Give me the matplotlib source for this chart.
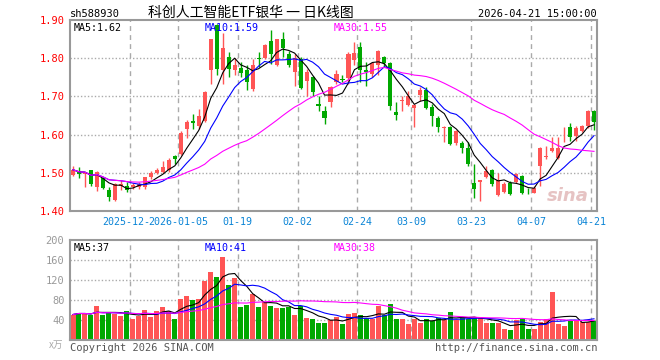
import matplotlib
matplotlib.use("Agg")
import matplotlib.pyplot as plt
import pandas as pd

# daily bars, 2025-12-08 .. 2026-04-21
opens = [1.495, 1.505, 1.497, 1.507, 1.464, 1.487, 1.455, 1.429, 1.465, 1.466,
         1.462, 1.464, 1.462, 1.488, 1.500, 1.503, 1.507, 1.543, 1.549, 1.614,
         1.635, 1.623, 1.636, 1.768, 1.888, 1.768, 1.803, 1.770, 1.774, 1.770,
         1.720, 1.800, 1.800, 1.844, 1.781, 1.849, 1.811, 1.765, 1.798, 1.741,
         1.750, 1.679, 1.663, 1.685, 1.737, 1.746, 1.748, 1.794, 1.829, 1.768,
         1.759, 1.781, 1.803, 1.788, 1.659, 1.688, 1.677, 1.669, 1.704, 1.717,
         1.671, 1.643, 1.618, 1.619, 1.578, 1.578, 1.566, 1.474, 1.477, 1.490,
         1.508, 1.442, 1.450, 1.472, 1.475, 1.492, 1.451, 1.448, 1.518, 1.541,
         1.558, 1.540, 1.603, 1.619, 1.596, 1.610, 1.622, 1.663]
highs = [1.518, 1.514, 1.502, 1.508, 1.505, 1.490, 1.464, 1.472, 1.481, 1.476,
         1.472, 1.475, 1.490, 1.504, 1.512, 1.530, 1.540, 1.546, 1.610, 1.637,
         1.655, 1.667, 1.715, 1.851, 1.890, 1.866, 1.816, 1.800, 1.789, 1.781,
         1.797, 1.816, 1.838, 1.875, 1.850, 1.868, 1.820, 1.811, 1.803, 1.772,
         1.754, 1.702, 1.674, 1.726, 1.768, 1.755, 1.816, 1.842, 1.842, 1.790,
         1.790, 1.822, 1.805, 1.791, 1.685, 1.702, 1.715, 1.680, 1.724, 1.724,
         1.680, 1.650, 1.622, 1.622, 1.612, 1.584, 1.580, 1.523, 1.481, 1.518,
         1.510, 1.499, 1.476, 1.479, 1.500, 1.494, 1.461, 1.466, 1.567, 1.571,
         1.593, 1.593, 1.619, 1.630, 1.622, 1.625, 1.665, 1.665]
lows = [1.492, 1.486, 1.462, 1.465, 1.452, 1.457, 1.427, 1.426, 1.455, 1.449,
        1.458, 1.458, 1.458, 1.484, 1.498, 1.499, 1.502, 1.522, 1.546, 1.590,
        1.614, 1.615, 1.634, 1.733, 1.756, 1.733, 1.750, 1.756, 1.750, 1.718,
        1.715, 1.776, 1.798, 1.785, 1.780, 1.803, 1.776, 1.728, 1.720, 1.702,
        1.702, 1.663, 1.628, 1.673, 1.733, 1.737, 1.733, 1.781, 1.737, 1.728,
        1.750, 1.755, 1.776, 1.665, 1.639, 1.663, 1.674, 1.621, 1.689, 1.667,
        1.623, 1.606, 1.580, 1.573, 1.573, 1.553, 1.518, 1.435, 1.426, 1.487,
        1.466, 1.440, 1.447, 1.441, 1.473, 1.444, 1.444, 1.446, 1.466, 1.536,
        1.555, 1.537, 1.580, 1.584, 1.584, 1.606, 1.618, 1.612]
closes = [1.508, 1.497, 1.500, 1.470, 1.501, 1.460, 1.437, 1.470, 1.470, 1.456,
          1.468, 1.470, 1.488, 1.500, 1.507, 1.516, 1.533, 1.535, 1.605, 1.634,
          1.631, 1.650, 1.712, 1.849, 1.771, 1.826, 1.772, 1.782, 1.762, 1.739,
          1.782, 1.798, 1.835, 1.811, 1.849, 1.826, 1.781, 1.800, 1.722, 1.765,
          1.711, 1.676, 1.643, 1.724, 1.759, 1.742, 1.811, 1.814, 1.768, 1.763,
          1.788, 1.820, 1.788, 1.676, 1.651, 1.690, 1.702, 1.677, 1.717, 1.669,
          1.650, 1.619, 1.620, 1.575, 1.610, 1.566, 1.523, 1.457, 1.480, 1.505,
          1.470, 1.482, 1.470, 1.444, 1.496, 1.448, 1.449, 1.461, 1.565, 1.543,
          1.566, 1.566, 1.605, 1.593, 1.617, 1.623, 1.663, 1.632]
volumes = [51, 55, 53, 50, 68, 50, 55, 53, 48, 58,
           42, 49, 61, 46, 58, 67, 58, 42, 82, 88,
           80, 82, 119, 137, 127, 166, 110, 125, 67, 70,
           92, 67, 77, 68, 65, 65, 67, 50, 68, 45,
           42, 35, 35, 41, 47, 32, 52, 54, 50, 45,
           43, 69, 51, 72, 42, 42, 32, 42, 35, 43,
           39, 45, 40, 56, 40, 45, 43, 45, 45, 34,
           34, 34, 22, 20, 40, 42, 22, 22, 36, 42,
           96, 32, 28, 39, 40, 36, 36, 39]

# the 2025-12-22 label is covered by 2026-01-05 on the chart, only "2025-12-" shows
tick_idx = [10, 18, 28, 38, 48, 57, 67, 77, 87]
tick_labels = ["2025-12-", "2026-01-05", "01-19", "02-02", "02-24",
               "03-09", "03-23", "04-07", "04-21"]
price_ticks = [1.40, 1.50, 1.60, 1.70, 1.80, 1.90]
vol_ticks = [40, 80, 120, 160, 200]

RED = "#ff5555"
GREEN = "#00a800"
GRID = "#aaaaaa"
MONO = "DejaVu Sans Mono"
CJK = ["Noto Sans CJK SC", "DejaVu Sans"]
FS = 7.2

df = pd.DataFrame({"o": opens, "h": highs, "l": lows, "c": closes, "v": volumes})
n = len(df)
x = list(range(n))
up = df["c"] >= df["o"]
colors = [RED if u else GREEN for u in up]

W, H = 660, 360
fig = plt.figure(figsize=(6.6, 3.6), dpi=100)
fig.patch.set_facecolor("white")

def box(l, t, r, b):
    return [l / W, 1 - b / H, (r - l) / W, (b - t) / H]

ax = fig.add_axes(box(70, 20, 597, 211))
axv = fig.add_axes(box(70, 240, 597, 340))

for a in (ax, axv):
    a.set_xlim(-0.5, n - 0.5)
    for s in a.spines.values():
        s.set_color("#999999")
        s.set_linewidth(1.5)
    a.tick_params(length=0)
    a.set_xticks([])
    for i in tick_idx:
        a.axvline(i - 0.5, color=GRID, lw=1, ls=(0, (3.5, 3)), zorder=0)

# price panel
ax.set_ylim(1.40, 1.90)
for p in price_ticks[1:-1]:
    ax.axhline(p, color=GRID, lw=1, ls=(0, (1, 1.5)), zorder=0)
ax.set_yticks(price_ticks)
ax.set_yticklabels(["%.2f" % p for p in price_ticks], color="red",
                   fontsize=FS + 0.3, family=MONO)
ax.tick_params(axis="y", pad=4)

ax.vlines(x, df["l"], df["h"], colors=colors, lw=1, zorder=2)
body = (df["c"] - df["o"]).abs().clip(lower=0.0015)
ax.bar(x, body, bottom=df[["o", "c"]].min(axis=1), width=0.68,
       color=colors, linewidth=0, zorder=3)

ma5 = df["c"].rolling(5, min_periods=1).mean()
ma10 = df["c"].rolling(10, min_periods=1).mean()
ma30 = df["c"].rolling(30, min_periods=1).mean()
ax.plot(x, ma5, color="black", lw=0.8, zorder=4)
ax.plot(x, ma10, color="blue", lw=0.8, zorder=4)
ax.plot(x, ma30, color="magenta", lw=0.8, zorder=4)

for i, lab in zip(tick_idx, tick_labels):
    if lab == "2025-12-":
        # ends where the next label starts
        ax.text(12.85, -0.03, lab, transform=ax.get_xaxis_transform(),
                ha="right", va="top", color="#0a84d6", fontsize=FS,
                family=MONO, clip_on=False)
        continue
    ax.text(i - 0.5, -0.03, lab, transform=ax.get_xaxis_transform(),
            ha="center", va="top", color="#0a84d6", fontsize=FS,
            family=MONO, clip_on=False)

ax.text(0.006, 0.985, "MA5:1.62", transform=ax.transAxes, va="top",
        fontsize=FS, family=MONO, color="black")
ax.text(0.255, 0.985, "MA10:1.59", transform=ax.transAxes, va="top",
        fontsize=FS, family=MONO, color="blue")
ax.text(0.5, 0.985, "MA30:1.55", transform=ax.transAxes, va="top",
        fontsize=FS, family=MONO, color="magenta")
ax.text(0.985, 0.03, "sina", transform=ax.transAxes, ha="right", va="bottom",
        fontsize=13, fontweight="bold", style="italic", color="#e0b4b4",
        alpha=0.8)

# volume panel
axv.set_ylim(0, 200)
for v in vol_ticks[:-1]:
    axv.axhline(v, color=GRID, lw=1, ls=(0, (1, 1.5)), zorder=0)
axv.set_yticks(vol_ticks)
axv.set_yticklabels([str(v) for v in vol_ticks], color="#999999",
                    fontsize=FS + 0.3, family=MONO)
axv.tick_params(axis="y", pad=4)
axv.bar(x, df["v"], width=0.84, color=colors, linewidth=0, zorder=2)
axv.plot(x, df["v"].rolling(5, min_periods=1).mean(), color="black", lw=0.8, zorder=3)
axv.plot(x, df["v"].rolling(10, min_periods=1).mean(), color="blue", lw=0.8, zorder=3)
axv.plot(x, df["v"].rolling(30, min_periods=1).mean(), color="magenta", lw=0.8, zorder=3)
axv.text(0.006, 0.97, "MA5:37", transform=axv.transAxes, va="top",
         fontsize=FS, family=MONO, color="black")
axv.text(0.255, 0.97, "MA10:41", transform=axv.transAxes, va="top",
         fontsize=FS, family=MONO, color="blue")
axv.text(0.5, 0.97, "MA30:38", transform=axv.transAxes, va="top",
         fontsize=FS, family=MONO, color="magenta")

# header / footer
def ftext(px, py, s, **kw):
    fig.text(px / W, 1 - py / H, s, **kw)

ftext(70, 14, "sh588930", fontsize=FS + 0.3, family=MONO, va="center")
ftext(251, 13, "科创人工智能ETF银华 一 日K线图", fontsize=10, family=CJK,
      ha="center", va="center")
ftext(597, 14, "2026-04-21 15:00:00", fontsize=FS + 0.3, family=MONO,
      ha="right", va="center")
ftext(63, 345, "x万", fontsize=7, family=CJK, ha="right", va="center",
      color="#aaaaaa", style="italic")
ftext(70, 348, "Copyright 2026 SINA.COM", fontsize=FS + 0.3, family=MONO,
      va="center", color="#555555")
ftext(597, 348, "http://finance.sina.com.cn", fontsize=FS + 0.3, family=MONO,
      ha="right", va="center", color="#555555")

fig.savefig("out.png", dpi=100, facecolor="white")
